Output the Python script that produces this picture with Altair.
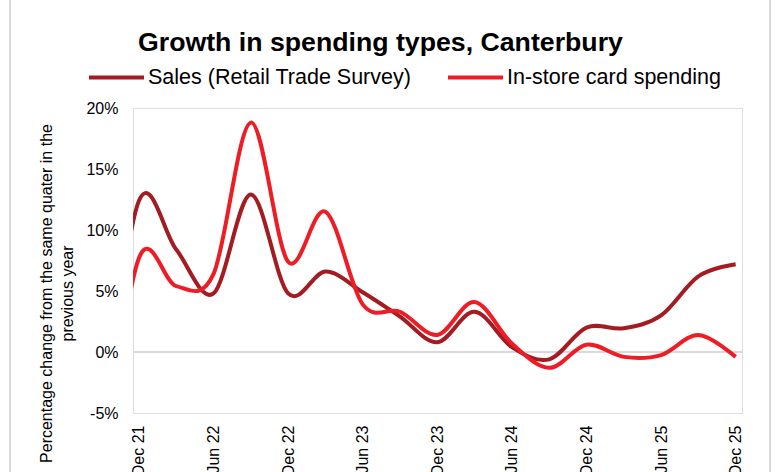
import altair as alt
import pandas as pd

# Quarter index: -1 = Sep 21 (before the axis start, clipped), 0 = Dec 21 ... 16 = Dec 25
quarters = ["Sep 21", "Dec 21", "Mar 22", "Jun 22", "Sep 22", "Dec 22", "Mar 23", "Jun 23",
            "Sep 23", "Dec 23", "Mar 24", "Jun 24", "Sep 24", "Dec 24", "Mar 25", "Jun 25",
            "Sep 25", "Dec 25"]
quarter_index = list(range(-1, 17))

sales = [-6.0, 12.4, 8.4, 4.8, 12.9, 4.8, 6.6, 4.9, 2.9, 0.8, 3.3, 0.4, -0.6, 2.0, 1.95, 3.0, 6.2, 7.2]
card = [-10.0, 7.7, 5.4, 6.4, 18.8, 7.4, 11.5, 3.9, 3.3, 1.4, 4.1, 0.7, -1.3, 0.6, -0.4, -0.25, 1.4, -0.4]

series_names = ["Sales (Retail Trade Survey)", "In-store card spending"]
series_colors = ["#A21C22", "#EE1D25"]

chart_title = ["Growth in spending types, Canterbury"]

y_ticks = [-5, 0, 5, 10, 15, 20]
x_tick_values = [0, 2, 4, 6, 8, 10, 12, 14, 16]

rows = []
for name, vals in zip(series_names, [sales, card]):
    for q, i, v in zip(quarters, quarter_index, vals):
        rows.append({"series": name, "quarter": q, "idx": i, "value": v})
df = pd.DataFrame(rows)

label_list = "[" + ",".join("'" + q + "'" for q in quarters[1:]) + "]"

FONT = "Liberation Sans"

x_enc = alt.X(
    "idx:Q",
    scale=alt.Scale(domain=[-0.16, 16.17], nice=False, zero=False),
    axis=alt.Axis(
        values=x_tick_values,
        labelExpr=label_list + "[datum.value]",
        labelAngle=-90,
        labelAlign="right",
        labelBaseline="middle",
        labelPadding=12,
        labelFontSize=16,
        labelFont=FONT,
        labelColor="#000000",
        labelOverlap=False,
        labelBound=False,
        labelFlush=False,
        domain=False,
        ticks=False,
        grid=False,
        title=None,
    ),
)

y_enc = alt.Y(
    "value:Q",
    scale=alt.Scale(domain=[-5, 20], nice=False, zero=False),
    axis=alt.Axis(
        values=y_ticks,
        labelExpr="datum.value + '%'",
        labelFontSize=16,
        labelFont=FONT,
        labelColor="#000000",
        labelPadding=15,
        domain=False,
        ticks=False,
        grid=False,
        title=["Percentage change from the same quater in the", "previous year"],
        titleFontSize=16,
        titleFont=FONT,
        titleFontWeight="normal",
        titleColor="#000000",
        titleLineHeight=21,
        titleAngle=270,
        titleAlign="center",
        titleBaseline="middle",
        titleX=-87,
        titleY=185,
    ),
)

zero_rule = alt.Chart(pd.DataFrame({"zero": [0]})).mark_rule(
    color="#D9D9D9", strokeWidth=2
).encode(y=alt.Y("zero:Q", scale=alt.Scale(domain=[-5, 20], nice=False, zero=False)))

# thin outline of the chart area (only its left and right edges fall inside the picture)
frame = alt.Chart(pd.DataFrame({"f": [0]})).mark_rect(
    fill=None, stroke="#D9D9D9", strokeWidth=2
).encode(
    x=alt.value(-123), x2=alt.value(637), y=alt.value(-140), y2=alt.value(400)
)

title_text = alt.Chart(pd.DataFrame({"t": chart_title})).mark_text(
    font=FONT, fontSize=26.7, fontWeight="bold", color="#000000",
    align="left", baseline="alphabetic"
).encode(text="t:N", x=alt.value(5), y=alt.value(-57))

lines = alt.Chart(df).mark_line(
    interpolate="cardinal", strokeWidth=4, clip=True
).encode(
    x=x_enc,
    y=y_enc,
    color=alt.Color(
        "series:N",
        scale=alt.Scale(domain=series_names, range=series_colors),
        legend=alt.Legend(
            orient="none",
            direction="horizontal",
            legendX=-46,
            legendY=-60,
            title=None,
            symbolType="stroke",
            symbolSize=3025,
            symbolStrokeWidth=4,
            labelFontSize=21.5,
            labelFont=FONT,
            labelColor="#000000",
            labelOffset=2,
            columnPadding=28,
            labelLimit=0,
        ),
    ),
    order=alt.Order("idx:Q"),
)

chart = alt.layer(frame, zero_rule, lines, title_text).properties(
    width=609,
    height=305,
    autosize=alt.AutoSizeParams(type="none"),
    padding={"left": 133, "top": 108, "right": 33, "bottom": 59},
).configure_view(stroke=None).configure(background="white")

chart.save("out.html", embed_options={"renderer": "svg", "actions": False})
